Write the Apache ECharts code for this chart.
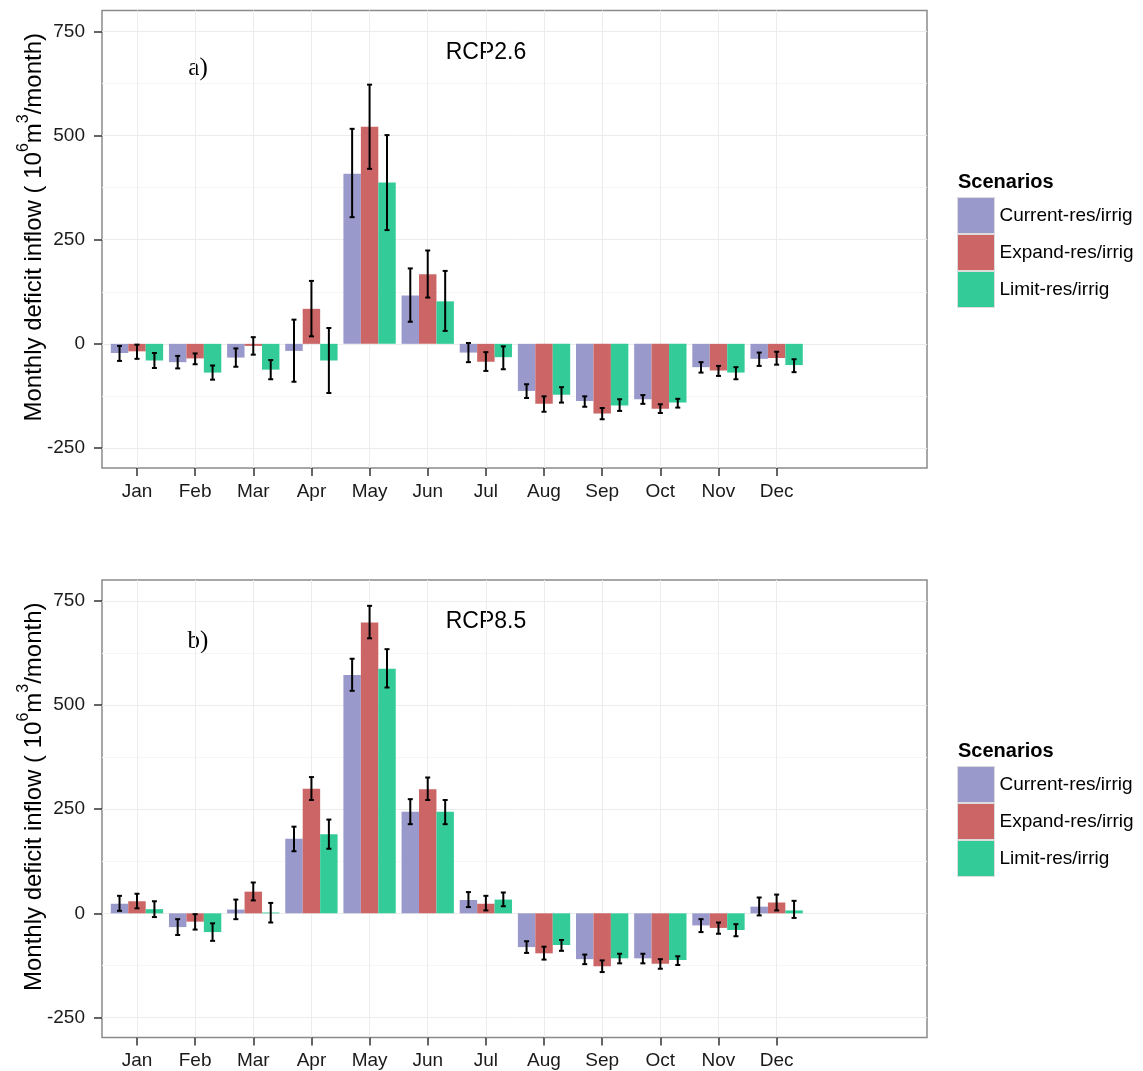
<!DOCTYPE html>
<html>
<head>
<meta charset="utf-8">
<title>Monthly deficit inflow</title>
<script src="https://cdn.jsdelivr.net/npm/echarts@6/dist/echarts.min.js"></script>
<style>
  html, body { margin: 0; padding: 0; background: #fff; }
  #chart { width: 1143px; height: 1071px; }
</style>
</head>
<body>
<div id="chart"></div>
<script>
// Monthly deficit inflow per scenario, mean bar + error range, two RCP panels.

const months = ['Jan', 'Feb', 'Mar', 'Apr', 'May', 'Jun', 'Jul', 'Aug', 'Sep', 'Oct', 'Nov', 'Dec']
// the original axis has two extra empty slots after Dec
const slots = months.concat(['', ''])
const scenarios = ['Current-res/irrig', 'Expand-res/irrig', 'Limit-res/irrig']
const colors = ['#9999CC', '#CC6666', '#33CC99']
const majorTicks = [-250, 0, 250, 500, 750]
const minorTicks = [-125, 125, 375, 625]

// RCP2.6
const rcp26Current = [-22, -44, -33, -17, 408, 116, -21, -113, -137, -133, -56, -36]
const rcp26CurrentLow = [-41, -59, -55, -91, 304, 53, -44, -130, -151, -144, -69, -53]
const rcp26CurrentHigh = [-5, -29, -11, 58, 516, 181, 2, -97, -126, -123, -44, -21]
const rcp26Expand = [-18, -35, -5, 84, 521, 167, -43, -144, -167, -156, -64, -34]
const rcp26ExpandLow = [-36, -49, -26, 18, 420, 111, -65, -163, -181, -166, -77, -50]
const rcp26ExpandHigh = [-2, -23, 16, 151, 622, 224, -20, -126, -154, -145, -53, -19]
const rcp26Limit = [-40, -69, -62, -40, 387, 102, -32, -122, -148, -141, -69, -51]
const rcp26LimitLow = [-58, -86, -85, -118, 273, 31, -61, -141, -161, -153, -85, -68]
const rcp26LimitHigh = [-22, -52, -39, 38, 501, 175, -6, -104, -133, -132, -56, -37]

// RCP8.5
const rcp85Current = [23, -33, 9, 179, 572, 244, 32, -81, -110, -108, -29, 16]
const rcp85CurrentLow = [6, -52, -14, 149, 534, 214, 15, -95, -122, -120, -45, -5]
const rcp85CurrentHigh = [42, -14, 33, 208, 611, 274, 51, -67, -99, -97, -14, 38]
const rcp85Expand = [29, -20, 52, 299, 698, 298, 23, -96, -127, -121, -35, 26]
const rcp85ExpandLow = [12, -39, 31, 272, 660, 272, 7, -111, -141, -133, -49, 7]
const rcp85ExpandHigh = [47, -2, 74, 327, 738, 326, 42, -80, -113, -110, -22, 45]
const rcp85Limit = [10, -45, 2, 190, 587, 244, 33, -76, -108, -112, -40, 7]
const rcp85LimitLow = [-9, -66, -22, 155, 542, 214, 17, -90, -120, -124, -55, -11]
const rcp85LimitHigh = [29, -24, 25, 225, 634, 272, 50, -64, -97, -103, -26, 30]

const FONT = '"Liberation Sans", Arial, sans-serif'
const Y_MIN = -298
const Y_MAX = 800

const panels = [
  {
    tag: 'a)', label: 'RCP2.6', top: 10.5, legendTop: 197,
    means: [rcp26Current, rcp26Expand, rcp26Limit],
    lows: [rcp26CurrentLow, rcp26ExpandLow, rcp26LimitLow],
    highs: [rcp26CurrentHigh, rcp26ExpandHigh, rcp26LimitHigh],
  },
  {
    tag: 'b)', label: 'RCP8.5', top: 580, legendTop: 766,
    means: [rcp85Current, rcp85Expand, rcp85Limit],
    lows: [rcp85CurrentLow, rcp85ExpandLow, rcp85LimitLow],
    highs: [rcp85CurrentHigh, rcp85ExpandHigh, rcp85LimitHigh],
  },
]
const PANEL_H = 457.5

function renderErrorBar(params, api) {
  const cat = api.value(0)
  const lo = api.coord([cat, api.value(1)])
  const hi = api.coord([cat, api.value(2)])
  const band = api.size([1, 0])[0]
  const x = lo[0] + (api.value(3) - 1) * band * 0.3
  const cap = 2.5
  const style = { stroke: '#000', lineWidth: 2 }
  return {
    type: 'group',
    children: [
      { type: 'line', shape: { x1: x, y1: lo[1], x2: x, y2: hi[1] }, style },
      { type: 'line', shape: { x1: x - cap, y1: lo[1], x2: x + cap, y2: lo[1] }, style },
      { type: 'line', shape: { x1: x - cap, y1: hi[1], x2: x + cap, y2: hi[1] }, style },
    ],
  }
}

const grid = []
const xAxis = []
const yAxis = []
const series = []
const legend = []
const graphic = []
const showSlot = (i) => i < months.length

panels.forEach((p, k) => {
  // frame grid (full ggplot panel) + inner grid for the 14 category bands
  grid.push({ left: 102, top: p.top, width: 825, height: PANEL_H, show: true,
    borderColor: '#8a8a8a', borderWidth: 1.5, backgroundColor: '#fff' })
  grid.push({ left: 107.9, top: p.top, width: 814.1, height: PANEL_H })

  xAxis.push({ gridIndex: 2 * k, type: 'value', show: false })
  xAxis.push({
    gridIndex: 2 * k + 1, type: 'category', data: slots, position: 'bottom',
    axisLine: { show: false, onZero: false },
    axisTick: { show: true, alignWithLabel: true, interval: showSlot, length: 8,
      lineStyle: { color: '#333', width: 1.5 } },
    axisLabel: { interval: 0, margin: 14, fontSize: 19, color: '#1a1a1a', fontFamily: FONT },
    splitLine: { show: true, alignWithLabel: true, interval: showSlot,
      lineStyle: { color: '#ececec', width: 1 } },
  })

  yAxis.push({
    gridIndex: 2 * k, type: 'value', min: Y_MIN, max: Y_MAX,
    axisLine: { show: false },
    axisTick: { show: true, customValues: majorTicks, length: 8,
      lineStyle: { color: '#333', width: 1.5 } },
    axisLabel: { customValues: majorTicks, margin: 17, fontSize: 19, color: '#1a1a1a', fontFamily: FONT },
    splitLine: { show: true, lineStyle: { color: '#ececec', width: 1 } },
    name: '{a|Monthly deficit inflow ( 10}{s|6}{a|m}{s|3}{a|/month)}',
    nameLocation: 'middle', nameRotate: 90, nameGap: 56, nameMoveOverlap: false,
    nameTextStyle: {
      padding: [0, 0, 0, 24],
      rich: {
        a: { fontSize: 24, fontFamily: FONT, color: '#000', lineHeight: 30, verticalAlign: 'bottom' },
        s: { fontSize: 16, fontFamily: FONT, color: '#000', lineHeight: 30, verticalAlign: 'top' },
      },
    },
  })
  yAxis.push({
    gridIndex: 2 * k, type: 'value', min: Y_MIN, max: Y_MAX, position: 'left',
    axisLine: { show: false },
    axisTick: { show: false, customValues: minorTicks },
    axisLabel: { show: false },
    splitLine: { show: true, lineStyle: { color: '#f6f6f6', width: 1 } },
  })
  yAxis.push({ gridIndex: 2 * k + 1, type: 'value', min: Y_MIN, max: Y_MAX, show: false })

  scenarios.forEach((name, s) => {
    series.push({
      type: 'bar', name,
      xAxisIndex: 2 * k + 1, yAxisIndex: 3 * k + 2,
      data: p.means[s],
      barGap: '0%', barCategoryGap: '10%',
      itemStyle: { color: colors[s] },
    })
  })
  const errData = []
  scenarios.forEach((name, s) => {
    months.forEach((m, i) => errData.push([i, p.lows[s][i], p.highs[s][i], s]))
  })
  series.push({
    type: 'custom',
    xAxisIndex: 2 * k + 1, yAxisIndex: 3 * k + 2,
    data: errData,
    encode: { x: 0, y: [1, 2] },
    renderItem: renderErrorBar,
    z: 5,
  })

  legend.push({
    orient: 'vertical', left: 957, top: p.legendTop, padding: 0,
    itemWidth: 37, itemHeight: 36, itemGap: 0, icon: 'rect',
    selectedMode: false,
    data: scenarios,
    itemStyle: { borderColor: '#dcdcdc', borderWidth: 1 },
    textStyle: { fontSize: 19, color: '#000', fontFamily: FONT },
  })

  graphic.push({
    type: 'text', x: 486, y: p.top + (k === 0 ? 42.5 : 42),
    style: { text: p.label, font: '23px ' + FONT, fill: '#000',
      align: 'center', verticalAlign: 'middle', textAlign: 'center', textVerticalAlign: 'middle' },
  })
  graphic.push({
    type: 'text', x: 198, y: p.top + (k === 0 ? 57.5 : 61),
    style: { text: p.tag, font: '25px "Liberation Serif", "Times New Roman", serif', fill: '#000',
      align: 'center', verticalAlign: 'middle', textAlign: 'center', textVerticalAlign: 'middle' },
  })
  graphic.push({
    type: 'text', x: 958, y: p.legendTop - 15,
    style: { text: 'Scenarios', font: 'bold 20px ' + FONT, fill: '#000',
      align: 'left', verticalAlign: 'middle', textAlign: 'left', textVerticalAlign: 'middle' },
  })
})

const chart = echarts.init(document.getElementById('chart'))
chart.setOption({
  animation: false,
  backgroundColor: '#fff',
  textStyle: { fontFamily: FONT },
  grid, xAxis, yAxis, series, legend, graphic,
})
window.addEventListener('resize', () => chart.resize())
</script>
</body>
</html>
